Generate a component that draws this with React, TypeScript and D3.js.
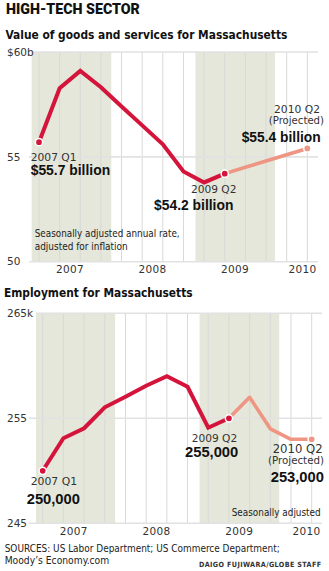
import React from "react";
import * as d3 from "d3";

// ---- Data ----
const quarters = [
  "2007 Q1", "2007 Q2", "2007 Q3", "2007 Q4",
  "2008 Q1", "2008 Q2", "2008 Q3", "2008 Q4",
  "2009 Q1", "2009 Q2", "2009 Q3", "2009 Q4",
  "2010 Q1", "2010 Q2",
];
const years = ["2007", "2008", "2009", "2010"];
// shaded periods, in quarter index units
const shadeStart = [-0.4, 7.58];
const shadeEnd = [3.5, 11.43];

// Value of goods and services ($ billions)
const gdpActual = [55.7, 58.27, 59.1, 58.32, 57.4, 56.5, 55.6, 54.3, 53.78, 54.2];
const gdpProjected = [54.2, 54.5, 54.8, 55.1, 55.4];
const gdpTicks = [50, 55, 60];
const gdpTickLabels = ["50", "55", "$60b"];

// Employment (thousands)
const jobsActual = [250.0, 253.1, 254.05, 256.05, 257.06, 258.1, 259.0, 258.0, 254.1, 255.0];
const jobsProjected = [255.0, 257.0, 254.0, 253.0, 253.0];
const jobsTicks = [245, 255, 265];
const jobsTickLabels = ["245", "255", "265k"];

// ---- Styles ----
const NARROW = '"Liberation Sans Narrow", "DejaVu Sans Condensed", "Roboto Condensed", Roboto, "Liberation Sans", sans-serif';
const BOLDNUM = '"Liberation Sans", Arial, sans-serif';
const WIDE = '"DejaVu Sans", Verdana, sans-serif';
const HEAVY = 'Roboto, "Liberation Sans", sans-serif';
const RED = "#d5143c";
const SALMON = "#ef9584";
const SHADE = "#e4e7d9";
const GRID = "#d9d9d9";

let ctx: CanvasRenderingContext2D | null = null;
function fitSize(text: string, family: string, weight: number, size: number, target: number, ls = 0) {
  if (typeof document === "undefined") return size;
  if (!ctx) ctx = document.createElement("canvas").getContext("2d");
  if (!ctx) return size;
  ctx.font = `${weight} ${size}px ${family}`;
  const w = ctx.measureText(text).width;
  if (!w) return size;
  const n = text.length;
  return (size * (target - ls * n)) / w;
}

type Layout = {
  x0: number; x1: number; xFirst: number; xLast: number;
  yTop: number; yBottom: number;
};

function Chart({ layout, domain, ticks, tickLabels, actual, projected }: {
  layout: Layout; domain: [number, number]; ticks: number[]; tickLabels: string[];
  actual: number[]; projected: number[];
}) {
  const x = d3.scaleLinear().domain([0, quarters.length - 1]).range([layout.xFirst, layout.xLast]);
  const y = d3.scaleLinear().domain(domain).range([layout.yBottom, layout.yTop]);
  const projStart = actual.length - 1;
  const line = d3.line<number>().x((_, i) => x(i)).y((d) => y(d));
  const lineP = d3.line<number>().x((_, i) => x(projStart + i)).y((d) => y(d));
  const clampX = (v: number) => Math.max(layout.x0, Math.min(layout.x1, v));
  return (
    <g>
      {shadeStart.map((s, i) => (
        <rect key={"s" + i} x={clampX(x(s))} y={layout.yTop}
          width={clampX(x(shadeEnd[i])) - clampX(x(s))} height={layout.yBottom - layout.yTop} fill={SHADE} />
      ))}
      {quarters.map((q, i) => (
        <line key={q} x1={x(i)} x2={x(i)} y1={layout.yTop} y2={layout.yBottom} stroke={GRID} strokeWidth={1} />
      ))}
      {ticks.map((t, i) => (
        <g key={t}>
          <line x1={i === ticks.length - 1 ? layout.x0 : 29} x2={layout.x1} y1={y(t)} y2={y(t)}
            stroke="#e2e2e2" strokeWidth={1.6} />
          <text x={7} y={y(t)} dy="0.36em" fontFamily={WIDE} fontSize={10.5} fill="#333">{tickLabels[i]}</text>
        </g>
      ))}
      {years.map((yr, i) => {
        const c = Math.min(x(4 * i + 1.5), layout.x1 - 15.5);
        return (
          <text key={yr} x={c} y={layout.yBottom + 11.5} textAnchor="middle" fontFamily={WIDE}
            fontSize={10.5} fill="#333" letterSpacing={0.3}>{yr}</text>
        );
      })}
      <path d={lineP(projected) || ""} fill="none" stroke={SALMON} strokeWidth={3.6} strokeLinejoin="round" strokeLinecap="round" />
      <path d={line(actual) || ""} fill="none" stroke={RED} strokeWidth={4} strokeLinejoin="miter" />
      <circle cx={x(0)} cy={y(actual[0])} r={3.6} fill={RED} stroke="#fff" strokeWidth={1.5} />
      <circle cx={x(projStart)} cy={y(actual[projStart])} r={3.6} fill={RED} stroke="#fff" strokeWidth={1.5} />
      <circle cx={x(quarters.length - 1)} cy={y(projected[projected.length - 1])} r={3.6} fill={SALMON} stroke="#fff" strokeWidth={1.5} />
    </g>
  );
}

function T({ x, y, children, size = 10.5, font = WIDE, weight = 400, anchor = "start", fit, fill = "#333", ls = 0 }: any) {
  const s = fit ? fitSize(String(children), font, weight, size, fit, ls) : size;
  return (
    <text x={x} y={y} fontFamily={font} fontSize={s} fontWeight={weight} textAnchor={anchor} fill={fill}
      letterSpacing={ls}>{children}</text>
  );
}

export default function App() {
  const top: Layout = { x0: 31.7, x1: 318, xFirst: 39, xLast: 307.3, yTop: 52, yBottom: 261.7 };
  const bot: Layout = { x0: 36, x1: 322, xFirst: 42.7, xLast: 311.7, yTop: 313.3, yBottom: 523.3 };
  const B = 14.3;
  return (
    <svg width={329} height={571} style={{ position: "absolute", left: 0, top: 0, background: "#fff" }}>
      <rect width={329} height={571} fill="#fff" />
      <T x={6} y={14} size={15} font={HEAVY} weight={900} fit={134} fill="#111">HIGH-TECH SECTOR</T>
      <T x={5.5} y={38.5} size={15.2} font={NARROW} weight={700} fit={282} fill="#111">Value of goods and services for Massachusetts</T>

      <Chart layout={top} domain={[50, 60]} ticks={gdpTicks} tickLabels={gdpTickLabels}
        actual={gdpActual} projected={gdpProjected} />

      <T x={34.7} y={236.7} size={12.2} font={NARROW} fit={145} fill="#222">Seasonally adjusted annual rate,</T>
      <T x={34.7} y={250} size={12.2} font={NARROW} fit={93} fill="#222">adjusted for inflation</T>

      <T x={30.7} y={160.5} fit={46}>2007 Q1</T>
      <T x={30.7} y={175} size={B} font={BOLDNUM} weight={700} fit={79.5} fill="#111">$55.7 billion</T>
      <T x={191} y={193.3} fit={45.5}>2009 Q2</T>
      <T x={154} y={210} size={B} font={BOLDNUM} weight={700} fit={79.5} fill="#111">$54.2 billion</T>
      <T x={320} y={112.5} anchor="end" fit={46}>2010 Q2</T>
      <T x={324} y={124} anchor="end" fit={55.3}>(Projected)</T>
      <T x={241.7} y={141.7} size={B} font={BOLDNUM} weight={700} fit={79} fill="#111">$55.4 billion</T>

      <T x={4} y={296.7} size={15.2} font={NARROW} weight={700} fit={188.5} fill="#111">Employment for Massachusetts</T>

      <Chart layout={bot} domain={[245, 265]} ticks={jobsTicks} tickLabels={jobsTickLabels}
        actual={jobsActual} projected={jobsProjected} />

      <T x={30.7} y={485} fit={46.5}>2007 Q1</T>
      <T x={26.7} y={504} size={B} font={BOLDNUM} weight={700} fit={53.3} fill="#111">250,000</T>
      <T x={191.7} y={441.6} fit={45.6}>2009 Q2</T>
      <T x={185} y={457} size={B} font={BOLDNUM} weight={700} fit={53.3} fill="#111">255,000</T>
      <T x={272.7} y={452.8} fit={50}>2010 Q2</T>
      <T x={268} y={464.4} fit={56}>(Projected)</T>
      <T x={270.7} y={481.9} size={B} font={BOLDNUM} weight={700} fit={53.3} fill="#111">253,000</T>
      <T x={231.7} y={515.7} size={12.2} font={NARROW} fit={89} fill="#222">Seasonally adjusted</T>

      <T x={4.7} y={551.5} size={12} font={NARROW} fit={275.3} fill="#222">SOURCES: US Labor Department; US Commerce Department;</T>
      <T x={4.7} y={563.6} size={12} font={NARROW} fit={104.6} fill="#222">Moody’s Economy.com</T>
      <T x={199} y={566.7} size={8.5} font={NARROW} weight={700} ls={0.4} fit={122.7} fill="#333">DAIGO FUJIWARA/GLOBE STAFF</T>
    </svg>
  );
}
